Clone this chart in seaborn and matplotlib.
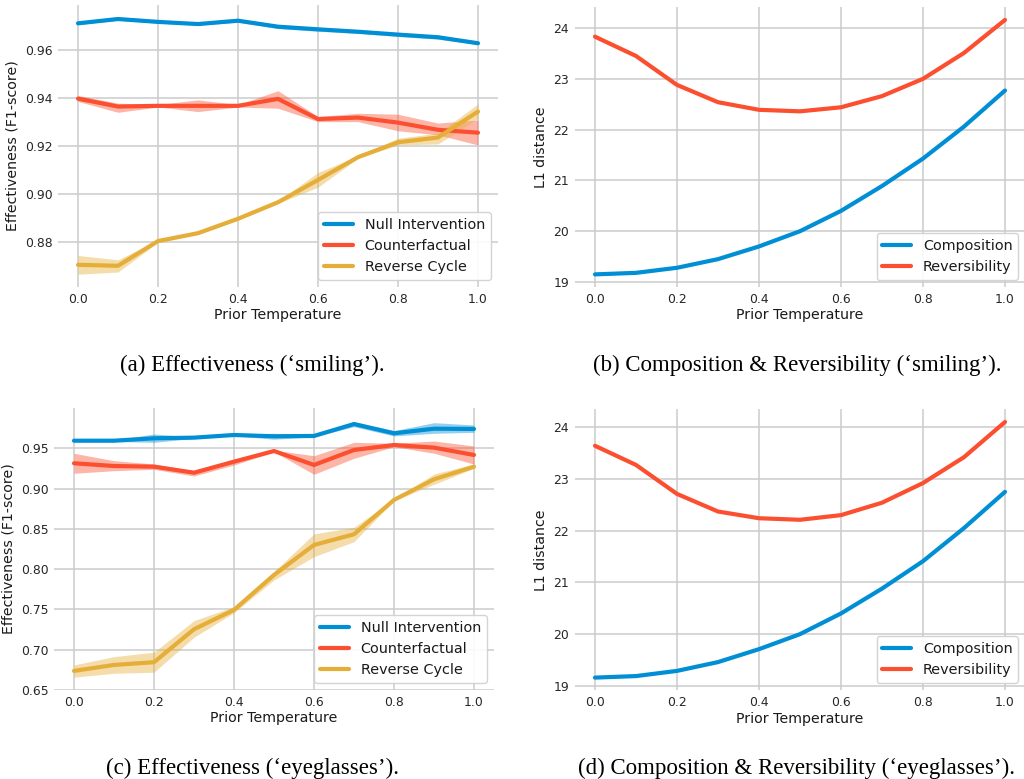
import numpy as np
import pandas as pd
import matplotlib
matplotlib.use("Agg")
import matplotlib.pyplot as plt
import seaborn as sns

# ---------------- data ----------------
temps = [0.0, 0.1, 0.2, 0.3, 0.4, 0.5, 0.6, 0.7, 0.8, 0.9, 1.0]

# (a) smiling - effectiveness
a_null = [0.9711, 0.9729, 0.9717, 0.9708, 0.9722, 0.9697, 0.9686, 0.9676, 0.9664, 0.9653, 0.9628]
a_null_lo = [0.9706, 0.9724, 0.9712, 0.9703, 0.9716, 0.9689, 0.9678, 0.9669, 0.9656, 0.9645, 0.9623]
a_null_hi = [0.9716, 0.9734, 0.9722, 0.9713, 0.9728, 0.9705, 0.9694, 0.9683, 0.9672, 0.9661, 0.9633]
a_cf = [0.9397, 0.9364, 0.9367, 0.9367, 0.9367, 0.9396, 0.9312, 0.9318, 0.9297, 0.9267, 0.9255]
a_cf_lo = [0.9385, 0.9340, 0.9362, 0.9343, 0.9362, 0.9357, 0.9301, 0.9301, 0.9263, 0.9246, 0.9204]
a_cf_hi = [0.9410, 0.9378, 0.9372, 0.9392, 0.9372, 0.9430, 0.9322, 0.9336, 0.9332, 0.9295, 0.9308]
a_rc = [0.8704, 0.8700, 0.8803, 0.8836, 0.8896, 0.8965, 0.9058, 0.9153, 0.9215, 0.9235, 0.9343]
a_rc_lo = [0.8665, 0.8674, 0.8798, 0.8831, 0.8891, 0.8960, 0.9028, 0.9148, 0.9204, 0.9208, 0.9315]
a_rc_hi = [0.8743, 0.8725, 0.8808, 0.8841, 0.8901, 0.8970, 0.9089, 0.9158, 0.9232, 0.9253, 0.9375]

# (b) smiling - composition & reversibility
b_comp = [19.15, 19.18, 19.28, 19.45, 19.70, 20.00, 20.40, 20.89, 21.43, 22.06, 22.77]
b_rev = [23.83, 23.45, 22.88, 22.54, 22.39, 22.36, 22.44, 22.66, 23.00, 23.51, 24.16]

# (c) eyeglasses - effectiveness
c_null = [0.9594, 0.9594, 0.9624, 0.9632, 0.9665, 0.9649, 0.9653, 0.9801, 0.9686, 0.9743, 0.9740]
c_null_lo = [0.9584, 0.9584, 0.9574, 0.9622, 0.9655, 0.9612, 0.9643, 0.9768, 0.9653, 0.9686, 0.9698]
c_null_hi = [0.9604, 0.9604, 0.9677, 0.9642, 0.9675, 0.9686, 0.9663, 0.9830, 0.9719, 0.9818, 0.9789]
c_cf = [0.9314, 0.9280, 0.9272, 0.9197, 0.9334, 0.9466, 0.9293, 0.9479, 0.9541, 0.9508, 0.9417]
c_cf_lo = [0.9190, 0.9222, 0.9239, 0.9156, 0.9293, 0.9456, 0.9177, 0.9376, 0.9520, 0.9438, 0.9305]
c_cf_hi = [0.9438, 0.9346, 0.9305, 0.9222, 0.9355, 0.9476, 0.9408, 0.9574, 0.9562, 0.9590, 0.9529]
c_rc = [0.6737, 0.6811, 0.6845, 0.7254, 0.7494, 0.7928, 0.8300, 0.8433, 0.8859, 0.9115, 0.9272]
c_rc_lo = [0.6659, 0.6708, 0.6721, 0.7155, 0.7460, 0.7866, 0.8155, 0.8341, 0.8849, 0.9053, 0.9252]
c_rc_hi = [0.6811, 0.6914, 0.6969, 0.7361, 0.7535, 0.7970, 0.8437, 0.8520, 0.8869, 0.9181, 0.9305]

# (d) eyeglasses - composition & reversibility
d_comp = [19.16, 19.19, 19.29, 19.46, 19.71, 20.00, 20.40, 20.88, 21.41, 22.05, 22.75]
d_rev = [23.64, 23.27, 22.71, 22.37, 22.24, 22.21, 22.30, 22.54, 22.92, 23.42, 24.10]

eff_names = ["Null Intervention", "Counterfactual", "Reverse Cycle"]
dist_names = ["Composition", "Reversibility"]
captions = ["(a) Effectiveness (\u2018smiling\u2019).",
            "(b) Composition & Reversibility (\u2018smiling\u2019).",
            "(c) Effectiveness (\u2018eyeglasses\u2019).",
            "(d) Composition & Reversibility (\u2018eyeglasses\u2019)."]

colors = ["#008fd5", "#fc4f30", "#e5ae38"]

# ---------------- style ----------------
sns.set_theme(style="whitegrid")
plt.rcParams.update({
    "font.family": ["DejaVu Sans"],
    "font.size": 10,
    "axes.labelsize": 10.2,
    "xtick.labelsize": 8.9,
    "ytick.labelsize": 8.9,
    "legend.fontsize": 10.4,
    "grid.color": "#cccccc",
    "grid.linewidth": 1.1,
    "text.color": "#1a1a1a",
    "axes.labelcolor": "#1a1a1a",
    "xtick.color": "#262626",
    "ytick.color": "#262626",
})

W, H = 1024, 779
fig = plt.figure(figsize=(W / 100, H / 100), dpi=100)


def rect(left, right, top, bottom):
    return [left / W, 1 - bottom / H, (right - left) / W, (bottom - top) / H]


ax_a = fig.add_axes(rect(58, 498, 5, 287))
ax_b = fig.add_axes(rect(574.5, 1025.5, 7.2, 287.1))
ax_c = fig.add_axes(rect(54, 494, 408, 690))
ax_d = fig.add_axes(rect(574.5, 1025.5, 409.2, 690.4))


def eff_panel(ax, series, bands):
    for name, y, (lo, hi), col in zip(eff_names, series, bands, colors):
        ax.fill_between(temps, lo, hi, color=col, alpha=0.42, linewidth=0)
        sns.lineplot(x=temps, y=y, ax=ax, color=col, linewidth=3, label=name)
    ax.set_ylabel("Effectiveness (F1-score)")


def dist_panel(ax, comp, rev):
    sns.lineplot(x=temps, y=comp, ax=ax, color=colors[0], linewidth=3, label=dist_names[0])
    sns.lineplot(x=temps, y=rev, ax=ax, color=colors[1], linewidth=3, label=dist_names[1])
    ax.set_ylabel("L1 distance")


eff_panel(ax_a, [a_null, a_cf, a_rc],
          [(a_null_lo, a_null_hi), (a_cf_lo, a_cf_hi), (a_rc_lo, a_rc_hi)])
ax_a.set_yticks([0.88, 0.90, 0.92, 0.94, 0.96])

dist_panel(ax_b, b_comp, b_rev)

eff_panel(ax_c, [c_null, c_cf, c_rc],
          [(c_null_lo, c_null_hi), (c_cf_lo, c_cf_hi), (c_rc_lo, c_rc_hi)])
ax_c.set_ylim(0.65, 1.0)
ax_c.set_yticks([0.65, 0.70, 0.75, 0.80, 0.85, 0.90, 0.95])

dist_panel(ax_d, d_comp, d_rev)

for ax in (ax_a, ax_b, ax_c, ax_d):
    ax.set_xlim(-0.05, 1.05)
    ax.set_xticks([0.0, 0.2, 0.4, 0.6, 0.8, 1.0])
    ax.set_xlabel("Prior Temperature", labelpad=2)
    for s in ax.spines.values():
        s.set_visible(False)
    ax.tick_params(length=0, pad=4)
    ax.grid(True)
    leg = ax.legend(loc="lower right", frameon=True, fancybox=True,
                    edgecolor="#d0d0d0", facecolor="white", framealpha=0.9)
    for ln in leg.get_lines():
        ln.set_linewidth(3)

cap_kw = dict(ha="center", va="baseline", fontsize=16.5,
              family=["Liberation Serif", "DejaVu Serif"], color="black")
fig.text(252 / W, 1 - 371 / H, captions[0], **cap_kw)
fig.text(797 / W, 1 - 371 / H, captions[1], **cap_kw)
fig.text(252 / W, 1 - 774 / H, captions[2], **cap_kw)
fig.text(797 / W, 1 - 774 / H, captions[3], **cap_kw)

fig.savefig("out.png", dpi=100)
